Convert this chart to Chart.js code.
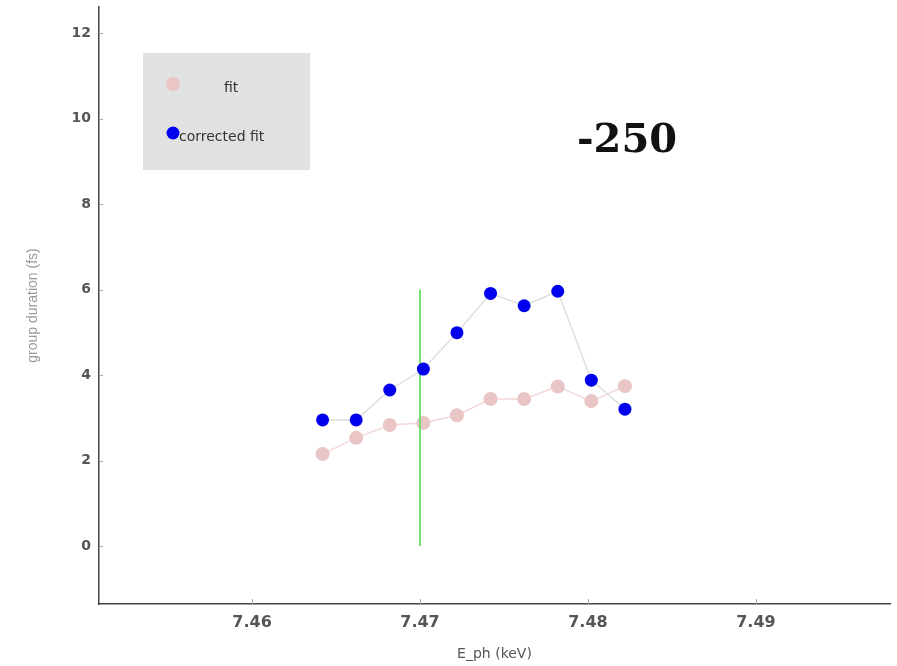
<!DOCTYPE html>
<html>
<head>
<meta charset="utf-8">
<script src="https://cdn.jsdelivr.net/npm/chart.js@4/dist/chart.umd.min.js"></script>
<style>
  html, body { margin: 0; padding: 0; background: #fff; overflow: hidden; }
  #wrap { width: 897px; height: 666px; position: relative; }
</style>
</head>
<body>
<div id="wrap"><canvas id="durationChart" width="897" height="666"></canvas></div>
<script>
// photon energies (keV)
const energies = [7.4642, 7.4662, 7.4682, 7.4702, 7.4722, 7.4742, 7.4762, 7.4782, 7.4802, 7.4822];
// group duration (fs)
const fitValues = [2.15, 2.53, 2.83, 2.88, 3.06, 3.44, 3.44, 3.73, 3.39, 3.74];
const correctedValues = [2.95, 2.95, 3.65, 4.14, 4.99, 5.91, 5.62, 5.96, 3.88, 3.20];
// vertical marker
const markerX = [7.47, 7.47];
const markerY = [0, 6];

const xTicks = [7.46, 7.47, 7.48, 7.49];
const yTicks = [0, 2, 4, 6, 8, 10, 12];
const annotation = '-250';

const toPoints = (xs, ys) => xs.map((x, i) => ({ x, y: ys[i] }));

const pinkDot = '#e9c5c5';
const blueDot = '#0000ee';

// legend box, inward tick marks and the big label
const extras = {
    id: 'extras',
    afterDatasetsDraw(chart) {
        const ctx = chart.ctx;
        const xs = chart.scales.x, ys = chart.scales.y;
        const area = chart.chartArea;
        ctx.save();
        ctx.strokeStyle = '#aaa';
        ctx.lineWidth = 1;
        yTicks.forEach(v => {
            const py = Math.round(ys.getPixelForValue(v)) + 0.5;
            ctx.beginPath(); ctx.moveTo(area.left, py); ctx.lineTo(area.left + 4, py); ctx.stroke();
        });
        xTicks.forEach(v => {
            const px = Math.round(xs.getPixelForValue(v)) + 0.5;
            ctx.beginPath(); ctx.moveTo(px, area.bottom); ctx.lineTo(px, area.bottom - 5); ctx.stroke();
        });

        // legend
        ctx.fillStyle = '#e1e1e1';
        ctx.fillRect(143, 53, 167, 117);
        ctx.fillStyle = pinkDot;
        ctx.beginPath(); ctx.arc(173, 84, 7, 0, Math.PI * 2); ctx.fill();
        ctx.fillStyle = blueDot;
        ctx.beginPath(); ctx.arc(173, 133, 6.5, 0, Math.PI * 2); ctx.fill();
        ctx.fillStyle = '#333';
        ctx.font = '14px "DejaVu Sans"';
        ctx.textBaseline = 'middle';
        ctx.textAlign = 'left';
        ctx.fillText(chart.data.datasets[0].label, 224, 88);
        ctx.fillText(chart.data.datasets[1].label, 179, 137);

        ctx.fillStyle = '#111';
        ctx.font = 'bold 40px "DejaVu Serif"';
        ctx.textAlign = 'center';
        ctx.fillText(annotation, 627, 142);
        ctx.restore();
    }
};

const ctx = document.getElementById('durationChart').getContext('2d');
const durationChart = new Chart(ctx, {
    type: 'line',
    data: {
        datasets: [{
            label: 'fit',
            data: toPoints(energies, fitValues),
            borderColor: '#f2d8d8',
            borderWidth: 1.5,
            pointBackgroundColor: pinkDot,
            pointBorderWidth: 0,
            pointRadius: 7,
            order: 3
        }, {
            label: 'corrected fit',
            data: toPoints(energies, correctedValues),
            borderColor: '#dedede',
            borderWidth: 1.5,
            pointBackgroundColor: blueDot,
            pointBorderWidth: 0,
            pointRadius: 6.5,
            order: 1
        }, {
            label: 'marker',
            data: toPoints(markerX, markerY),
            borderColor: '#74e074',
            borderWidth: 2,
            pointRadius: 0,
            order: 2
        }]
    },
    options: {
        responsive: false,
        animation: false,
        layout: { padding: { top: 7, right: 0, left: 0, bottom: 0 } },
        plugins: { legend: { display: false }, tooltip: { enabled: false } },
        scales: {
            x: {
                type: 'linear',
                min: 7.45089,
                max: 7.49798,
                afterBuildTicks: s => { s.ticks = xTicks.map(v => ({ value: v })); },
                afterFit: s => { s.height = 62; s.paddingLeft = 0; s.paddingRight = 0; },
                grid: { display: false },
                border: { color: '#444', width: 1.5 },
                ticks: {
                    padding: 1,
                    color: '#555',
                    font: { family: 'DejaVu Sans', size: 16, weight: 'bold' },
                    callback: v => v.toFixed(2)
                },
                title: {
                    display: true,
                    text: 'E_ph (keV)',
                    color: '#555',
                    padding: { top: 0, bottom: 3 },
                    font: { family: 'DejaVu Sans', size: 14 }
                }
            },
            y: {
                type: 'linear',
                min: -1.357,
                max: 12.61,
                afterBuildTicks: s => { s.ticks = yTicks.map(v => ({ value: v })); },
                afterFit: s => { s.width = 99; s.paddingTop = 0; s.paddingBottom = 0; },
                grid: { display: false },
                border: { color: '#444', width: 1.5 },
                ticks: {
                    padding: 0,
                    color: '#555',
                    font: { family: 'DejaVu Sans', size: 14, weight: 'bold' }
                },
                title: {
                    display: true,
                    text: 'group duration (fs)',
                    color: '#999',
                    padding: { top: 25, bottom: 0 },
                    font: { family: 'Liberation Sans', size: 14 }
                }
            }
        }
    },
    plugins: [extras]
});
</script>
</body>
</html>
